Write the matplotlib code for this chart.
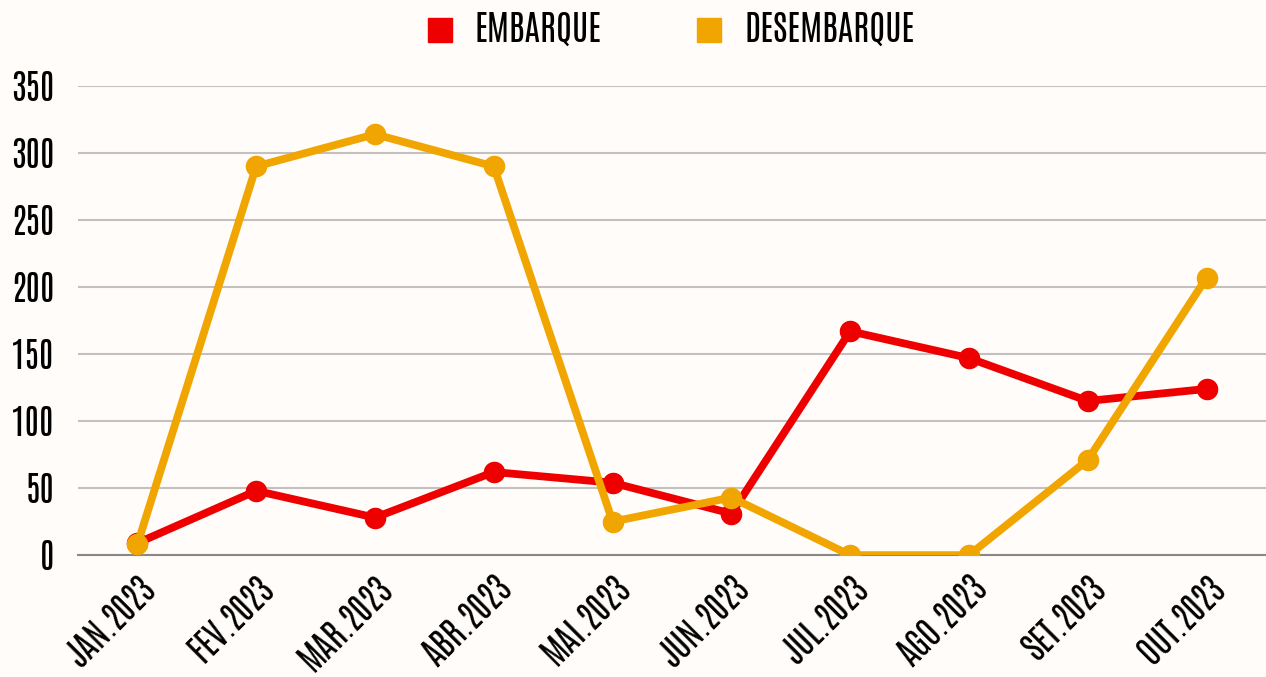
import matplotlib
matplotlib.use('Agg')
import matplotlib.pyplot as plt
from matplotlib.lines import Line2D

months = ['JAN.2023', 'FEV.2023', 'MAR.2023', 'ABR.2023', 'MAI.2023',
          'JUN.2023', 'JUL.2023', 'AGO.2023', 'SET.2023', 'OUT.2023']
embarque = [9, 48, 28, 62, 54, 31, 167, 147, 115, 124]
desembarque = [8, 290, 314, 290, 25, 43, 0, 0, 71, 207]
yticks = [0, 50, 100, 150, 200, 250, 300, 350]

RED = '#EE0000'
ORANGE = '#F0A500'
BG = '#FFFCF9'

plt.rcParams['font.family'] = ['Antonio', 'Bebas Neue', 'DejaVu Sans']

fig = plt.figure(figsize=(12.66, 6.77), dpi=100, facecolor=BG)
ax = fig.add_axes([0.0616, 0.180, 0.9384, 0.693])
ax.set_facecolor(BG)

x = range(len(months))
ax.plot(x, embarque, color=RED, linewidth=5.6, marker='o', markersize=14.5, zorder=3)
ax.plot(x, desembarque, color=ORANGE, linewidth=5.6, marker='o', markersize=14.5, zorder=4)

ax.set_xlim(-0.5, len(months) - 0.5)
ax.set_ylim(0, 350)
ax.set_yticks(yticks)
ax.set_yticklabels([str(v) for v in yticks], fontsize=25)
ax.set_xticks(list(x))
ax.set_xticklabels(months, rotation=45, ha='right', rotation_mode='anchor', fontsize=24)
ax.tick_params(axis='y', length=0, pad=17)
ax.tick_params(axis='x', length=0, pad=11)

ax.grid(axis='y', color='#C4C0BE', linewidth=1.5)
ax.set_axisbelow(True)
for s in ['top', 'right', 'left']:
    ax.spines[s].set_visible(False)
ax.spines['bottom'].set_color('#8A8886')
ax.spines['bottom'].set_linewidth(1.5)
ax.spines['bottom'].set_zorder(2)

handles = [Line2D([], [], color=RED, marker='s', linestyle='none', markersize=17),
           Line2D([], [], color=ORANGE, marker='s', linestyle='none', markersize=17)]
fig.legend(handles, ['EMBARQUE', 'DESEMBARQUE'], loc='center',
           bbox_to_anchor=(0.528, 0.957), ncol=2, frameon=False, fontsize=25,
           handlelength=1.0, handletextpad=0.5, columnspacing=2.6)

fig.savefig('out.png', dpi=100, facecolor=BG)
